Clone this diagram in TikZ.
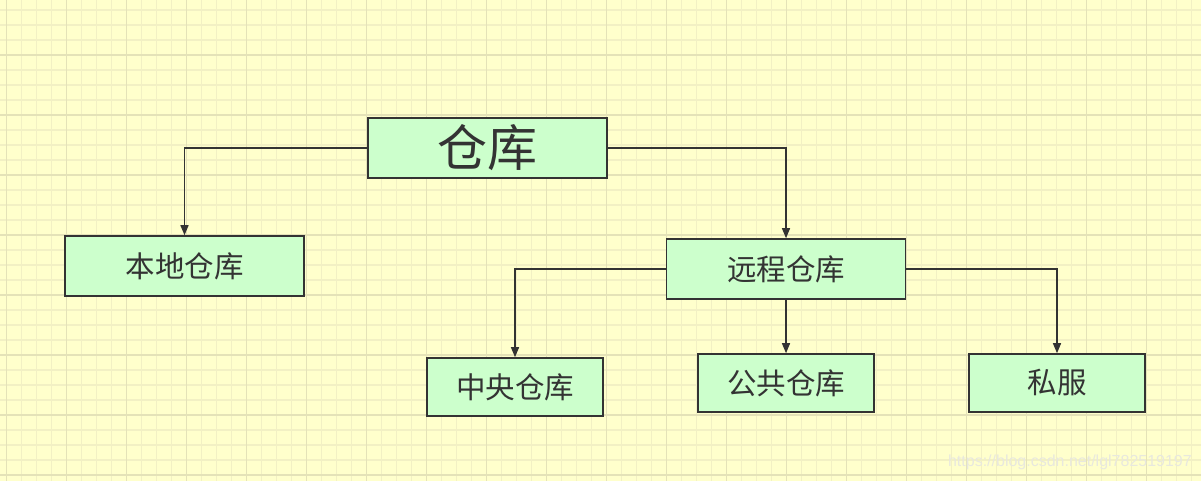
\documentclass[tikz,border=0pt]{standalone}
\usepackage{fontspec}
\setmainfont{Liberation Sans}
\newfontfamily\cjk{Noto Sans CJK SC}
\usetikzlibrary{arrows.meta}
\definecolor{bgc}{RGB}{255,255,204}
\definecolor{minorc}{RGB}{242,240,196}
\definecolor{majorc}{RGB}{228,226,184}
\definecolor{boxc}{RGB}{204,255,204}
\definecolor{inkc}{RGB}{51,51,51}
\definecolor{wmc}{RGB}{232,232,222}
\tikzset{
  box/.style={draw=inkc, line width=1.6pt, fill=boxc, text=inkc, inner sep=0pt, font=\cjk\fontsize{29.5}{32}\selectfont},
  conn/.style={draw=inkc, line width=1.4pt, -{Triangle[length=10pt,width=8pt]}},
}
\begin{document}
\begin{tikzpicture}[x=1pt,y=-1pt]
\useasboundingbox (0,0) rectangle (1201,481);
\fill[bgc] (0,0) rectangle (1201,481);
\foreach \x in {6.7,21.7,...,1201} \draw[minorc, line width=1.2pt] (\x,0) -- (\x,481);
\foreach \y in {10,25,...,481} \draw[minorc, line width=1.2pt] (0,\y) -- (1201,\y);
\foreach \x in {6.7,66.7,...,1201} \draw[majorc, line width=1.2pt] (\x,0) -- (\x,481);
\foreach \y in {55,115,...,481} \draw[majorc, line width=1.2pt] (0,\y) -- (1201,\y);

\node[box, minimum width=239pt, minimum height=60pt, font=\cjk\fontsize{50}{54}\selectfont] (root) at (487.5,148) {仓库};
\node[box, minimum width=239pt, minimum height=60pt] (local) at (184.5,266) {本地仓库};
\node[box, minimum width=239pt, minimum height=60pt] (remote) at (786,269) {远程仓库};
\node[box, minimum width=176pt, minimum height=58pt] (central) at (515,387) {中央仓库};
\node[box, minimum width=176pt, minimum height=58pt] (public) at (786,383) {公共仓库};
\node[box, minimum width=176pt, minimum height=58pt] (private) at (1057,383) {私服};

\draw[conn] (root.west) -| (local.north);
\draw[conn] (root.east) -| (remote.north);
\draw[conn] (remote.west) -| (central.north);
\draw[conn] (remote.south) -- (public.north);
\draw[conn] (remote.east) -| (private.north);

\node[text=wmc, font=\fontsize{16}{18}\selectfont, anchor=east, inner sep=0pt] (wm) at (1192,462) {https://blog.csdn.net/lgl782519197};
\end{tikzpicture}
\end{document}
